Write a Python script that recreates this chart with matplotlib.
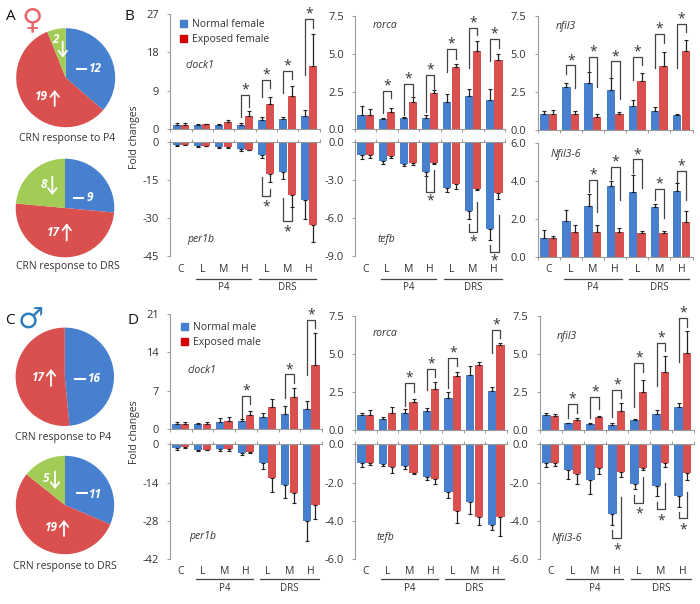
import matplotlib
matplotlib.use('Agg')
import matplotlib.pyplot as plt
from matplotlib.patches import Patch, FancyArrowPatch
from matplotlib.lines import Line2D

plt.rcParams['font.family'] = ['Open Sans', 'DejaVu Sans']

W, H = 700, 604
BLUE = '#4680CF'
RED = '#D9504F'
GREEN = '#A2CC55'
TXT = '#333333'
AXC = '#9a9a9a'

groups = ['C', 'L', 'M', 'H', 'L', 'M', 'H']

# pies
pie_f_p4 = [12, 19, 2]
pie_f_drs = [9, 17, 8]
pie_m_p4 = [16, 17, 0]
pie_m_drs = [11, 19, 5]

# female, upper panels
clock1_f_n = [1.0, 1.1, 1.1, 1.1, 2.2, 2.4, 3.2]
clock1_f_e = [1.0, 1.2, 1.6, 3.0, 6.0, 7.7, 14.9]
clock1_f_n_err = [0.5, 0.1, 0.1, 0.3, 0.7, 0.5, 1.3]
clock1_f_e_err = [0.5, 0.1, 0.6, 1.4, 1.6, 2.5, 7.4]
rorca_f_n = [0.95, 0.71, 0.73, 0.77, 1.83, 2.2, 1.94]
rorca_f_e = [0.95, 1.17, 1.83, 2.38, 4.1, 5.17, 4.6]
rorca_f_n_err = [0.62, 0.02, 0.1, 0.17, 0.49, 0.5, 0.73]
rorca_f_e_err = [0.38, 0.22, 0.29, 0.2, 0.22, 0.66, 0.4]
nfil3_f_n = [1.0, 2.78, 3.1, 2.6, 1.55, 1.2, 0.95]
nfil3_f_e = [1.0, 1.0, 0.83, 1.05, 3.2, 4.2, 5.2]
nfil3_f_n_err = [0.22, 0.3, 0.7, 0.8, 0.42, 0.3, 0.1]
nfil3_f_e_err = [0.28, 0.22, 0.2, 0.1, 0.55, 0.93, 0.72]

# female, lower panels
per1b_f_n = [-1.0, -1.4, -1.9, -2.7, -5.0, -11.9, -22.8]
per1b_f_e = [-1.0, -1.4, -2.0, -3.0, -12.5, -20.8, -32.8]
per1b_f_n_err = [0.6, 0.3, 0.3, 0.8, 1.3, 2.8, 7.7]
per1b_f_e_err = [0.2, 0.2, 0.3, 0.2, 3.3, 4.7, 6.5]
tefb_f_n = [-1.0, -1.48, -1.72, -2.37, -3.6, -5.4, -6.9]
tefb_f_e = [-1.0, -1.05, -1.6, -1.66, -3.3, -3.7, -4.04]
tefb_f_n_err = [0.3, 0.2, 0.15, 0.3, 0.37, 0.7, 0.85]
tefb_f_e_err = [0.25, 0.2, 0.2, 0.05, 0.4, 0.1, 0.47]
nfil36_f_n = [1.0, 1.9, 2.7, 3.75, 3.4, 2.6, 3.45]
nfil36_f_e = [1.0, 1.33, 1.3, 1.33, 1.25, 1.25, 1.85]
nfil36_f_n_err = [0.4, 0.56, 0.58, 0.23, 0.9, 0.17, 0.42]
nfil36_f_e_err = [0.12, 0.35, 0.38, 0.17, 0.1, 0.1, 0.58]

# male, upper panels
clock1_m_n = [0.9, 1.0, 1.4, 1.6, 2.25, 2.85, 3.75]
clock1_m_e = [0.9, 1.0, 1.6, 2.6, 4.1, 5.9, 11.7]
clock1_m_n_err = [0.5, 0.1, 0.65, 0.25, 0.7, 1.4, 1.4]
clock1_m_e_err = [0.5, 0.35, 0.6, 0.7, 1.5, 1.6, 5.9]
rorca_m_n = [1.0, 0.75, 1.1, 1.25, 2.1, 3.6, 2.55]
rorca_m_e = [1.0, 1.1, 1.85, 2.7, 3.55, 4.3, 5.6]
rorca_m_n_err = [0.1, 0.1, 0.25, 0.2, 0.4, 0.6, 0.3]
rorca_m_e_err = [0.3, 0.4, 0.2, 0.45, 0.25, 0.18, 0.1]
nfil3_m_n = [1.0, 0.44, 0.4, 0.33, 0.64, 1.07, 1.5]
nfil3_m_e = [0.95, 0.65, 0.85, 1.25, 2.5, 3.84, 5.05]
nfil3_m_n_err = [0.15, 0.03, 0.03, 0.1, 0.1, 0.25, 0.25]
nfil3_m_e_err = [0.13, 0.15, 0.1, 0.55, 0.8, 1.0, 1.45]

# male, lower panels
per1b_m_n = [-1.2, -2.0, -1.85, -3.0, -7.0, -15.0, -27.9]
per1b_m_e = [-1.0, -1.9, -1.85, -2.8, -12.3, -17.7, -22.0]
per1b_m_n_err = [1.0, 0.4, 0.7, 0.8, 2.0, 4.5, 7.5]
per1b_m_e_err = [0.2, 0.3, 0.5, 0.2, 5.1, 3.9, 5.2]
tefb_m_n = [-1.0, -1.03, -1.13, -1.7, -2.5, -3.0, -4.2]
tefb_m_e = [-1.0, -1.2, -1.48, -1.83, -3.48, -3.77, -3.77]
tefb_m_n_err = [0.2, 0.12, 0.15, 0.17, 0.28, 0.65, 0.28]
tefb_m_e_err = [0.1, 0.3, 0.08, 0.26, 0.63, 0.45, 1.0]
nfil36_m_n = [-1.0, -1.35, -1.88, -3.62, -2.05, -2.17, -2.7]
nfil36_m_e = [-1.0, -1.53, -1.22, -1.43, -1.22, -1.0, -1.48]
nfil36_m_n_err = [0.17, 0.45, 0.7, 0.6, 0.26, 0.54, 0.58]
nfil36_m_e_err = [0.12, 0.52, 0.35, 0.26, 0.1, 0.16, 0.37]

# significance brackets: group, left leg end, right leg end, bar level
sig_clock1_f = [(3, 2.8, 5.3, 8.1), (4, 7.6, 9.6, 11.6), (5, 8.4, 11.8, 13.7), (6, 12.7, 23.7, 25.8)]
sig_rorca_f = [(1, 1.06, 2.1, 2.56), (2, 0.95, 2.16, 3.0), (3, 1.17, 2.6, 3.6),
               (4, 3.82, 4.64, 5.3), (5, 4.04, 6.25, 6.73), (6, 4.55, 5.36, 5.98)]
sig_nfil3_f = [(1, 3.7, 2.76, 4.24), (2, 3.8, 2.83, 4.8), (3, 3.5, 2.03, 4.5),
               (4, 3.3, 4.26, 4.8), (5, 4.08, 5.74, 6.3), (6, 4.08, 6.47, 6.95)]
sig_per1b_f = [(4, -13.8, -18.5, -21.1), (5, -22.2, -26.1, -31.0)]
sig_tefb_f = [(3, -2.7, -2.2, -3.9), (5, -6.5, -4.7, -7.1), (6, -8.1, -5.75, -8.65)]
sig_nfil36_f = [(2, 3.43, 2.38, 4.02), (3, 4.1, 3.0, 4.74), (4, 4.42, 3.6, 5.12),
                (5, 3.0, 2.03, 3.55), (6, 3.95, 3.0, 4.53)]
sig_clock1_m = [(3, 2.1, 4.6, 6.1), (5, 5.75, 8.36, 10.0), (6, 9.9, 18.5, 19.9)]
sig_rorca_m = [(2, 1.58, 2.52, 3.1), (3, 2.63, 3.5, 4.0), (4, 2.74, 4.23, 4.76), (6, 5.09, 6.03, 6.58)]
sig_nfil3_m = [(1, 0.77, 1.14, 1.71), (2, 0.77, 1.36, 2.15), (3, 0.83, 2.08, 2.63),
               (4, 1.53, 3.8, 4.39), (5, 2.89, 5.2, 5.75), (6, 4.5, 6.8, 7.35)]
sig_nfil36_m = [(3, -4.47, -2.73, -4.9), (4, -2.64, -1.69, -3.04), (5, -2.99, -2.03, -3.39), (6, -3.51, -2.5, -3.86)]


def fx(x):
    return x / W


def fy(y):
    return 1 - y / H


def text(x, y, s, **kw):
    kw.setdefault('ha', 'center')
    kw.setdefault('va', 'center')
    kw.setdefault('color', TXT)
    kw.setdefault('fontsize', 8)
    fig.text(fx(x), fy(y), s, **kw)


def panel(box, normal, exposed, n_err, e_err, ticks, labels, sig=(), star_up=1.0, star_down=-11.0):
    x0, x1, y0, y1 = box
    ax = fig.add_axes([fx(x0), fy(y1), (x1 - x0) / W, (y1 - y0) / H])
    pos = list(range(len(groups)))
    lo = [p - 0.195 for p in pos]
    hi = [p + 0.195 for p in pos]
    ek = dict(ecolor='#222222', elinewidth=0.9, capsize=1.6, capthick=0.8)
    zeros = [0] * 7
    # error bars point away from zero
    if min(normal) >= 0:
        ax.bar(lo, normal, 0.38, color=BLUE, yerr=[zeros, n_err], error_kw=ek)
        ax.bar(hi, exposed, 0.38, color=RED, yerr=[zeros, e_err], error_kw=ek)
    else:
        ax.bar(lo, normal, 0.38, color=BLUE, yerr=[n_err, zeros], error_kw=ek)
        ax.bar(hi, exposed, 0.38, color=RED, yerr=[e_err, zeros], error_kw=ek)
    ax.set_xlim(-0.5, 6.5)
    ax.set_ylim(min(ticks), max(ticks))
    ax.set_yticks(ticks)
    ax.set_yticklabels(labels)
    ax.set_xticks([p + 0.5 for p in pos[:-1]] + [-0.5, 6.5])
    ax.set_xticklabels([])
    ax.tick_params(axis='y', length=2, width=0.7, color=AXC, pad=6, labelsize=8, labelcolor=TXT)
    ax.tick_params(axis='x', length=2, width=0.7, color=AXC)
    for s in ax.spines.values():
        s.set_visible(False)
    ax.spines['left'].set_visible(True)
    ax.spines['left'].set_color(AXC)
    if min(ticks) < 0:
        ax.spines['top'].set_visible(True)
        ax.spines['top'].set_color(AXC)
        ax.xaxis.tick_top()
        ax.set_xticklabels([])
    else:
        ax.spines['bottom'].set_visible(True)
        ax.spines['bottom'].set_color(AXC)
    ax.patch.set_alpha(0)
    for g, left, right, top in sig:
        ax.plot([g - 0.2, g - 0.2, g + 0.2, g + 0.2], [left, top, top, right],
                color='#444444', lw=0.9, clip_on=False, zorder=5)
        off = star_up if top > 0 else star_down
        ax.annotate('*', (g, top), xytext=(0, off), textcoords='offset points', ha='center',
                    va='baseline', fontsize=10, color=TXT, annotation_clip=False)
    return ax


def group_labels(ax, y_cat, y_line, y_lab):
    bottom = ax.get_position().y0 * H
    height = ax.get_position().height * H
    tr = ax.get_xaxis_transform()
    for g, name in zip(range(7), groups):
        ax.text(g, -(y_cat - (H - bottom)) / height, name, transform=tr, ha='center', va='center',
                fontsize=7.5, color=TXT, clip_on=False)
    frac = -(y_line - (H - bottom)) / height
    for a, b, name in [(0.7, 3.3, 'P4'), (3.65, 6.35, 'DRS')]:
        ax.plot([a, b], [frac, frac], color='#444444', lw=0.9, transform=tr, clip_on=False)
        ax.text((a + b) / 2, -(y_lab - (H - bottom)) / height, name, transform=tr, ha='center',
                va='center', fontsize=7, color=TXT, clip_on=False)


def pie(cx, cy, r, counts):
    ax = fig.add_axes([fx(cx - r), fy(cy + r), 2 * r / W, 2 * r / H])
    vals = [c for c in counts if c > 0]
    ax.pie(vals, colors=[BLUE, RED, GREEN][:len(vals)], startangle=90, counterclock=False, radius=1)
    ax.set_xlim(-1, 1)
    ax.set_ylim(-1, 1)


def arrow(x, y_from, y_to):
    fig.add_artist(FancyArrowPatch(
        (fx(x), fy(y_from)), (fx(x), fy(y_to)), transform=fig.transFigure,
        arrowstyle='->,head_length=2.4,head_width=1.9', color='white', lw=1.3, shrinkA=0, shrinkB=0,
        mutation_scale=1.6, zorder=10))


def dash(x0, x1, y):
    fig.add_artist(Line2D([fx(x0), fx(x1)], [fy(y), fy(y)], color='white', lw=1.5, zorder=10))


def count(x, y, s):
    fig.text(fx(x), fy(y), s, color='white', fontsize=8.5, fontweight='bold', style='italic',
             ha='center', va='center', zorder=10)


fig = plt.figure(figsize=(7.0, 6.04), dpi=100)

# pies
pie(65.7, 77.7, 49.5, pie_f_p4)
pie(65, 208, 49.3, pie_f_drs)
pie(64.8, 376.8, 49.2, pie_m_p4)
pie(65, 505, 49.2, pie_m_drs)

dash(76.5, 86, 68.5); count(95, 68.5, '12')
count(41.5, 96.5, '19'); arrow(54.7, 106, 90)
count(56, 39.5, '2'); arrow(62.7, 41.5, 57.5)
dash(74, 83, 197.5); count(90, 197.5, '9')
count(53.5, 232.5, '17'); arrow(66.7, 240.5, 223.5)
count(43.5, 185, '8'); arrow(52.3, 176.5, 195)
dash(75, 85, 378.5); count(94.5, 378.5, '16')
count(38.5, 377.5, '17'); arrow(51, 386, 369)
dash(76.5, 86.5, 493); count(95.5, 494, '11')
count(51.5, 527.5, '19'); arrow(64, 536, 520)
count(46.5, 479, '5'); arrow(55, 471.5, 489)

text(66.7, 139, 'CRN response to P4', fontsize=7.5)
text(67.7, 266.7, 'CRN response to DRS', fontsize=7.5)
text(63.3, 437.7, 'CRN response to P4', fontsize=7.5)
text(65, 566, 'CRN response to DRS', fontsize=7.5)

text(11, 17, 'A', fontsize=11, color='#111111')
text(129, 17, 'B', fontsize=11, color='#111111')
text(9.5, 320, 'C', fontsize=11, color='#111111')
text(133, 320, 'D', fontsize=11, color='#111111')
text(32, 20, '♀', fontsize=21, color='#E8656B', family='DejaVu Sans', fontweight='bold')
text(31, 320, '♂', fontsize=21, color='#2F7FBF', family='DejaVu Sans', fontweight='bold')

ticks_775 = [0, 2.5, 5.0, 7.5]
labels_775 = ['0.0', '2.5', '5.0', '7.5']

# female
a = panel((170.3, 319.5, 14, 129.3), clock1_f_n, clock1_f_e, clock1_f_n_err, clock1_f_e_err,
          [0, 9, 18, 27], ['0', '9', '18', '27'], sig_clock1_f)
b = panel((170.3, 319.5, 142.3, 256), per1b_f_n, per1b_f_e, per1b_f_n_err, per1b_f_e_err,
          [0, -15, -30, -45], ['0', '-15', '-30', '-45'], sig_per1b_f)
group_labels(b, 270, 279, 288)
c = panel((355, 505, 16, 129.3), rorca_f_n, rorca_f_e, rorca_f_n_err, rorca_f_e_err,
          ticks_775, labels_775, sig_rorca_f)
d = panel((355, 505, 142.3, 256), tefb_f_n, tefb_f_e, tefb_f_n_err, tefb_f_e_err,
          [0, -3, -6, -9], ['0.0', '-3.0', '-6.0', '-9.0'], sig_tefb_f, star_down=-9.5)
group_labels(d, 270, 279, 288)
e = panel((537.6, 692.6, 16, 129.6), nfil3_f_n, nfil3_f_e, nfil3_f_n_err, nfil3_f_e_err,
          ticks_775, labels_775, sig_nfil3_f)
f = panel((537.6, 692.6, 142.6, 257), nfil36_f_n, nfil36_f_e, nfil36_f_n_err, nfil36_f_e_err,
          [0, 2, 4, 6], ['0.0', '2.0', '4.0', '6.0'], sig_nfil36_f)
group_labels(f, 270, 279, 288)

# male
g = panel((170, 322, 314, 429.3), clock1_m_n, clock1_m_e, clock1_m_n_err, clock1_m_e_err,
          [0, 7, 14, 21], ['0', '7', '14', '21'], sig_clock1_m)
h = panel((170, 322, 444.3, 559.3), per1b_m_n, per1b_m_e, per1b_m_n_err, per1b_m_e_err,
          [0, -14, -28, -42], ['0', '-14', '-28', '-42'])
group_labels(h, 571.7, 579, 588.7)
i = panel((355, 507, 316, 430), rorca_m_n, rorca_m_e, rorca_m_n_err, rorca_m_e_err,
          ticks_775, labels_775, sig_rorca_m)
j = panel((355, 507, 444.3, 559.3), tefb_m_n, tefb_m_e, tefb_m_n_err, tefb_m_e_err,
          [0, -2, -4, -6], ['0.0', '-2.0', '-4.0', '-6.0'])
group_labels(j, 571.7, 579, 588.7)
k = panel((539.6, 694, 316, 430), nfil3_m_n, nfil3_m_e, nfil3_m_n_err, nfil3_m_e_err,
          ticks_775, labels_775, sig_nfil3_m)
l = panel((539.6, 694, 444.3, 559.3), nfil36_m_n, nfil36_m_e, nfil36_m_n_err, nfil36_m_e_err,
          [0, -2, -4, -6], ['0.0', '-2.0', '-4.0', '-6.0'], sig_nfil36_m)
group_labels(l, 571.7, 579, 588.7)

# gene names
for x, y, s in [(200, 66, 'clock1'), (200.7, 239.3, 'per1b'), (385, 25, 'rorca'), (386, 239, 'tefb'),
                (565.7, 26.7, 'nfil3'), (565.7, 154, 'Nfil3-6'), (201.7, 370.7, 'clock1'),
                (202.3, 536.7, 'per1b'), (385, 333.3, 'rorca'), (385, 537.3, 'tefb'),
                (566.7, 336, 'nfil3'), (566.7, 538.3, 'Nfil3-6')]:
    text(x, y, s, style='italic', fontsize=7.5)

text(135, 137, 'Fold changes', rotation=90, fontsize=7.5)
text(135, 431.7, 'Fold changes', rotation=90, fontsize=7.5)

# legends
for ax_, names, x_, y_ in [(a, ['Normal female', 'Exposed female'], 180, 19),
                           (g, ['Normal male', 'Exposed male'], 180.5, 322)]:
    ax_.legend(handles=[Patch(color=BLUE, label=names[0]), Patch(color='#D40000', label=names[1])],
               loc='upper left', bbox_to_anchor=(fx(x_), fy(y_)), bbox_transform=fig.transFigure,
               frameon=False, fontsize=7.5, handlelength=0.7, handleheight=0.7, borderpad=0,
               borderaxespad=0, handletextpad=0.5, labelspacing=0.4, labelcolor=TXT)

fig.savefig('out.png', dpi=100)
